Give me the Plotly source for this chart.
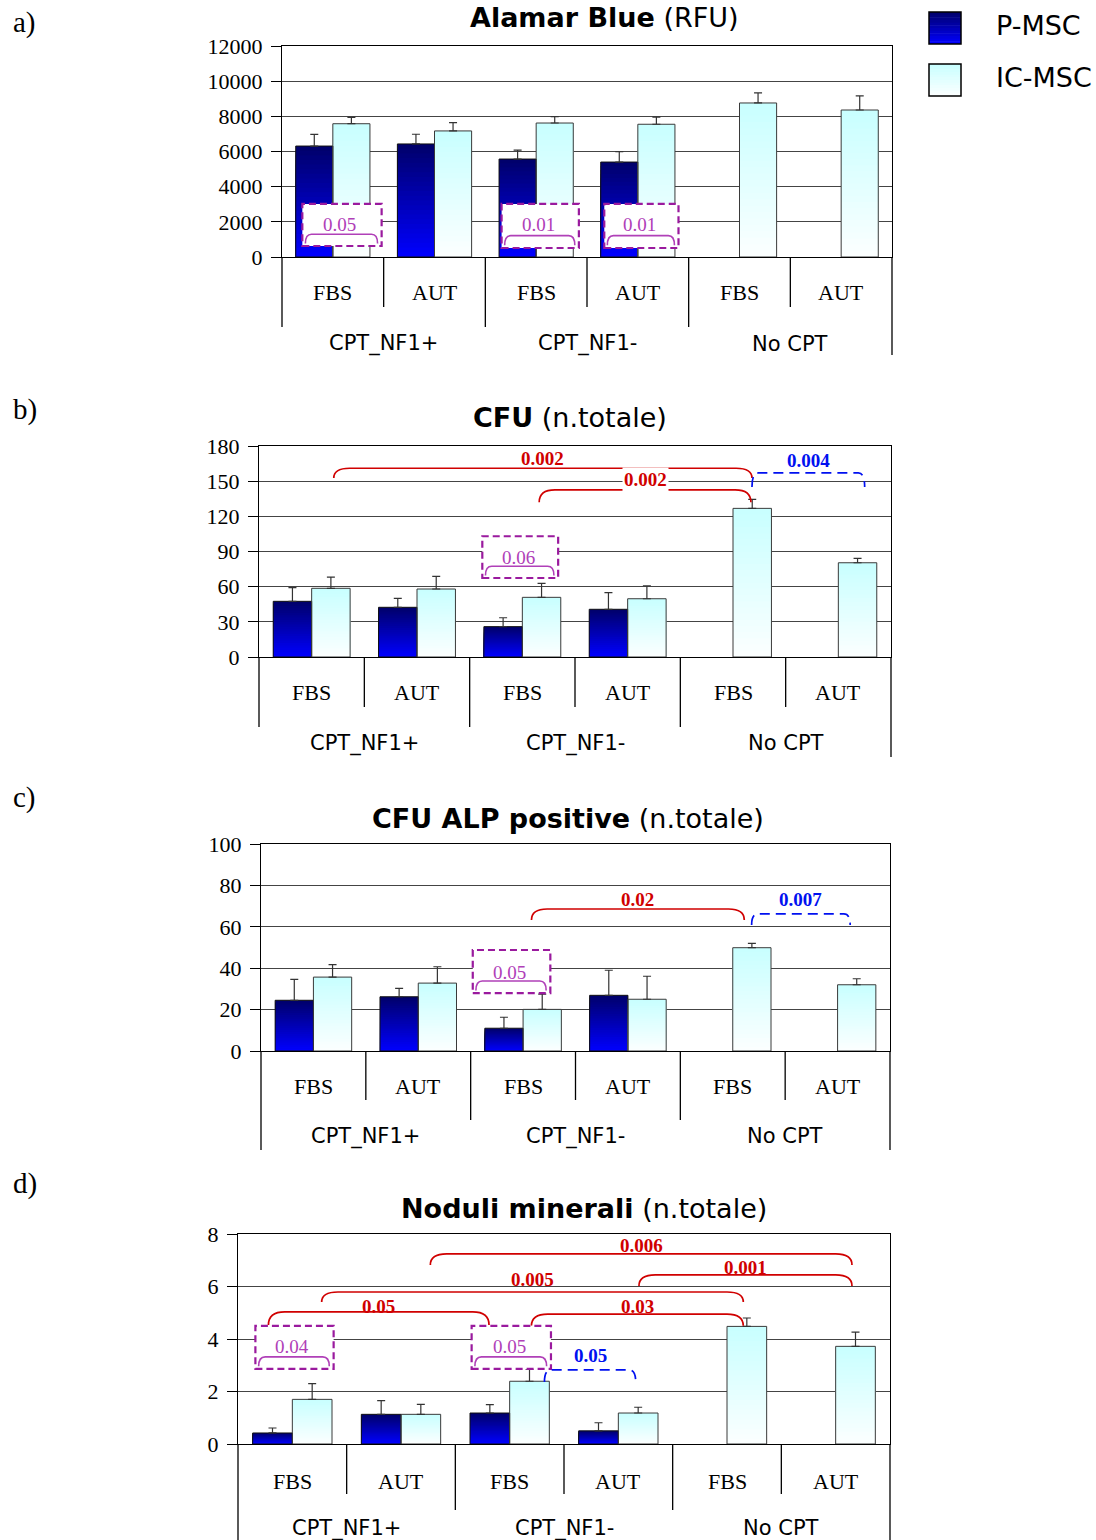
import plotly.graph_objects as go

# ---------------- data ----------------
conditions = ["FBS", "AUT", "FBS", "AUT", "FBS", "AUT"]
groups = ["CPT_NF1+", "CPT_NF1-", "No CPT"]
series_names = ["P-MSC", "IC-MSC"]
positions = [0, 1, 2, 3, 4, 5]

alamar_p = [6310, 6430, 5570, 5400, None, None]
alamar_p_sd = [660, 550, 510, 590, None, None]
alamar_ic = [7580, 7170, 7620, 7550, 8760, 8360]
alamar_ic_sd = [360, 470, 360, 400, 570, 800]

cfu_p = [47.5, 42.4, 25.9, 40.7, None, None]
cfu_p_sd = [11.6, 7.6, 7.6, 14.2, None, None]
cfu_ic = [58.6, 58.0, 50.9, 49.7, 126.8, 80.4]
cfu_ic_sd = [9.6, 10.8, 11.9, 11.1, 7.7, 3.8]

alp_p = [24.5, 26.2, 11.0, 26.9, None, None]
alp_p_sd = [10.1, 4.1, 5.3, 12.1, None, None]
alp_ic = [35.7, 32.8, 20.1, 25.0, 49.9, 32.0]
alp_ic_sd = [6.0, 7.9, 7.4, 11.1, 2.1, 2.9]

nod_p = [0.42, 1.13, 1.18, 0.50, None, None]
nod_p_sd = [0.19, 0.52, 0.32, 0.31, None, None]
nod_ic = [1.70, 1.13, 2.39, 1.18, 4.48, 3.72]
nod_ic_sd = [0.60, 0.38, 0.46, 0.22, 0.32, 0.54]

titles = ["<b>Alamar Blue</b> (RFU)", "<b>CFU</b> (n.totale)",
          "<b>CFU ALP positive</b> (n.totale)", "<b>Noduli minerali</b> (n.totale)"]
panel_letters = ["a)", "b)", "c)", "d)"]
y_max = [12000, 180, 100, 8]
y_step = [2000, 30, 20, 2]

# ---------------- layout geometry (px) ----------------
W, H = 1096, 1540
panels = [
    dict(l=282, r=892, t=46, b=257, short=50, long=70, left=70, right=98,
         title_x=604, title_y=18, letter_y=23, cat_dy=36, grp_dy=87),
    dict(l=259, r=891, t=446, b=657, short=50, long=70, left=70, right=100,
         title_x=570, title_y=417, letter_y=410, cat_dy=36, grp_dy=86),
    dict(l=261, r=890, t=844, b=1051, short=49, long=69, left=99, right=99,
         title_x=568, title_y=818, letter_y=797, cat_dy=35, grp_dy=85),
    dict(l=238, r=890, t=1234, b=1444, short=50, long=66, left=96, right=96,
         title_x=584, title_y=1208, letter_y=1183, cat_dy=37, grp_dy=84),
]

data_p = [(alamar_p, alamar_p_sd), (cfu_p, cfu_p_sd), (alp_p, alp_p_sd), (nod_p, nod_p_sd)]
data_ic = [(alamar_ic, alamar_ic_sd), (cfu_ic, cfu_ic_sd), (alp_ic, alp_ic_sd), (nod_ic, nod_ic_sd)]

RED = "#D00000"
BLUE = "#0010F0"
PURPLE_BOX = "#9A1A9E"
PURPLE = "#B040B8"

# significance marks: (kind, x0, x1, y_top, y_end, label, label_y, bg)
sig = [
    [
        ("box", -0.30, 0.48, 626, 3016, "0.05", 1820, None),
        ("box", 1.66, 2.42, 512, 3016, "0.01", 1820, None),
        ("box", 2.67, 3.40, 512, 3016, "0.01", 1820, None),
    ],
    [
        ("red", 0.21, 4.18, 161, 152.7, "0.002", 169, None),
        ("red", 2.16, 4.17, 142.5, 132, "0.002", 151, "white"),
        ("blue", 4.18, 5.25, 157, 145, "0.004", 168, None),
        ("box", 1.62, 2.34, 67.4, 103, "0.06", 85.3, None),
    ],
    [
        ("red", 2.08, 4.11, 68.6, 63.3, "0.02", 73.4, None),
        ("blue", 4.18, 5.12, 66.2, 60.9, "0.007", 73.4, None),
        ("box", 1.52, 2.26, 28, 48.8, "0.05", 37.7, None),
    ],
    [
        ("red", 1.27, 5.15, 7.24, 6.82, "0.006", 7.58, None),
        ("red", 3.19, 5.15, 6.44, 6.02, "0.001", 6.74, None),
        ("red", 0.27, 4.15, 5.79, 5.41, "0.005", 6.25, None),
        ("red", -0.22, 1.81, 5.03, 4.53, "0.05", 5.22, None),
        ("red", 2.20, 4.15, 4.95, 4.50, "0.03", 5.22, None),
        ("box", -0.34, 0.38, 2.86, 4.5, "0.04", 3.7, None),
        ("box", 1.65, 2.38, 2.86, 4.5, "0.05", 3.7, None),
        ("blue", 2.32, 3.16, 2.82, 2.36, "0.05", 3.39, None),
    ],
]

P_TOP, P_BOT = (0, 0, 105), (0, 0, 255)
IC_TOP, IC_BOT = (200, 255, 255), (252, 255, 255)
N_SLICES = 24
BAR_W = 0.365


def lerp(c0, c1, t):
    return "rgb(%d,%d,%d)" % tuple(round(a + (b - a) * t) for a, b in zip(c0, c1))


def px_x(px):
    return px / W


def px_y(py):
    return 1 - py / H


def text_ann(**kw):
    d = dict(showarrow=False, yanchor="middle")
    d.setdefault("xanchor", "center")
    d.update(kw)
    return d


fig = go.Figure()
layout = dict(
    width=W, height=H, autosize=False, margin=dict(l=0, r=0, t=0, b=0, pad=0),
    paper_bgcolor="white", plot_bgcolor="white", barmode="overlay",
    showlegend=False, font=dict(family="Liberation Serif", color="black"),
)
shapes = []
annotations = []

for i, pn in enumerate(panels):
    n = "" if i == 0 else str(i + 1)
    xa, ya = "x" + n, "y" + n
    xdom = [px_x(pn["l"]), px_x(pn["r"])]
    ydom = [px_y(pn["b"]), px_y(pn["t"])]
    layout["xaxis" + n] = dict(
        domain=xdom, anchor=ya, range=[-0.5, 5.5], showticklabels=False,
        showgrid=False, zeroline=False, showline=True, mirror=True,
        linecolor="black", linewidth=1, ticks="", fixedrange=True, automargin=False)
    layout["yaxis" + n] = dict(
        domain=ydom, anchor=xa, range=[0, y_max[i]], dtick=y_step[i], tick0=0,
        tickformat="d", showline=True, mirror=True, linecolor="black", linewidth=1,
        ticks="outside", ticklen=10, tickcolor="black", tickwidth=1,
        showgrid=True, gridcolor="#444444", gridwidth=1, zeroline=False,
        tickfont=dict(family="Liberation Serif", size=22, color="black"),
        ticklabelstandoff=4, fixedrange=True, automargin=False)

    # gradient bars (stacked overlapping slices, tallest first)
    for (vals, sd), off, ctop, cbot in [(data_p[i], -BAR_W, P_TOP, P_BOT),
                                        (data_ic[i], 0.0, IC_TOP, IC_BOT)]:
        for k in reversed(range(N_SLICES)):
            frac = (k + 1) / N_SLICES
            col = lerp(cbot, ctop, (k + 0.5) / N_SLICES)
            fig.add_trace(go.Bar(
                x=positions, y=[None if v is None else v * frac for v in vals],
                offset=off, width=BAR_W, xaxis=xa, yaxis=ya, opacity=1,
                marker=dict(color=col, line=dict(width=0)), hoverinfo="skip"))
    for (vals, sd), off, lc, name in [(data_p[i], -BAR_W, "#111111", series_names[0]),
                                      (data_ic[i], 0.0, "#3a3a3a", series_names[1])]:
        fig.add_trace(go.Bar(
            x=positions, y=vals, offset=off, width=BAR_W, xaxis=xa, yaxis=ya,
            name=name, opacity=1,
            marker=dict(color="rgba(0,0,0,0)", line=dict(color=lc, width=1)),
            error_y=dict(type="data", symmetric=False, array=sd,
                         arrayminus=[0] * len(sd), color="#333333",
                         thickness=1.2, width=4)))

    # category table lines below the axis
    unit = (pn["r"] - pn["l"]) / 6.0
    for j in range(7):
        xp = pn["l"] + j * unit
        if j == 0:
            ln = pn["left"]
        elif j == 6:
            ln = pn["right"]
        elif j % 2 == 0:
            ln = pn["long"]
        else:
            ln = pn["short"]
        shapes.append(dict(type="line", xref="paper", yref="paper",
                           x0=px_x(xp), x1=px_x(xp), y0=px_y(pn["b"]),
                           y1=px_y(pn["b"] + ln),
                           line=dict(color="black", width=1.3)))
    for j, c in enumerate(conditions):
        annotations.append(text_ann(x=positions[j], xref=xa, y=px_y(pn["b"] + pn["cat_dy"]),
                                    yref="paper", text=c,
                                    font=dict(family="Liberation Serif", size=22, color="black")))
    for g, gname in enumerate(groups):
        annotations.append(text_ann(x=2 * g + 0.5, xref=xa, y=px_y(pn["b"] + pn["grp_dy"]),
                                    yref="paper", text=gname,
                                    font=dict(family="DejaVu Sans", size=21, color="black")))

    # title and panel letter
    annotations.append(text_ann(x=px_x(pn["title_x"]), y=px_y(pn["title_y"]), xref="paper",
                                yref="paper", text=titles[i],
                                font=dict(family="DejaVu Sans", size=27, color="black")))
    annotations.append(text_ann(x=px_x(11), y=px_y(pn["letter_y"]), xref="paper", yref="paper",
                                xanchor="left", text=panel_letters[i],
                                font=dict(family="Liberation Serif", size=29, color="black")))

    # significance brackets
    for kind, x0, x1, yt, ye, lab, ly, bg in sig[i]:
        if kind == "box":
            shapes.append(dict(type="rect", xref=xa, yref=ya, x0=x0, x1=x1, y0=yt, y1=ye,
                               fillcolor="white",
                               line=dict(color=PURPLE_BOX, width=2.2, dash="7px,4px")))
            bx0, bx1 = x0 + 0.03, x1 - 0.04
            btop = yt + (ye - yt) * 0.28
            bend = yt + (ye - yt) * 0.06
            dx = 0.06
            path = (f"M {bx0},{bend} Q {bx0},{btop} {bx0 + dx},{btop} "
                    f"L {bx1 - dx},{btop} Q {bx1},{btop} {bx1},{bend}")
            shapes.append(dict(type="path", xref=xa, yref=ya, path=path,
                               line=dict(color=PURPLE, width=1.6)))
            annotations.append(text_ann(x=(x0 + x1) / 2 - 0.02, y=ly, xref=xa, yref=ya, text=lab,
                                        font=dict(family="Liberation Serif", size=19,
                                                  color=PURPLE)))
        else:
            col = RED if kind == "red" else BLUE
            dash = "solid" if kind == "red" else "10px,6px"
            dx = 0.15 if kind == "red" else 0.06
            path = (f"M {x0},{ye} Q {x0},{yt} {x0 + dx},{yt} "
                    f"L {x1 - dx},{yt} Q {x1},{yt} {x1},{ye}")
            shapes.append(dict(type="path", xref=xa, yref=ya, path=path,
                               line=dict(color=col, width=1.7, dash=dash)))
            ann = text_ann(x=(x0 + x1) / 2, y=ly, xref=xa, yref=ya, text="<b>" + lab + "</b>",
                           font=dict(family="Liberation Serif", size=19, color=col))
            if bg:
                ann["bgcolor"] = bg
            annotations.append(ann)

# legend drawn manually (gradient squares + labels)
for (ctop, cbot), top_px, name in [((P_TOP, P_BOT), 12, series_names[0]),
                                   ((IC_TOP, IC_BOT), 64, series_names[1])]:
    nseg = 12
    for s in range(nseg):
        y0 = top_px + s * 32 / nseg
        y1 = min(top_px + (s + 1) * 32 / nseg + 0.5, top_px + 32)
        shapes.append(dict(type="rect", xref="paper", yref="paper",
                           x0=px_x(929), x1=px_x(961), y0=px_y(y0), y1=px_y(y1),
                           fillcolor=lerp(ctop, cbot, (s + 0.5) / nseg), line=dict(width=0)))
    shapes.append(dict(type="rect", xref="paper", yref="paper",
                       x0=px_x(929), x1=px_x(961), y0=px_y(top_px), y1=px_y(top_px + 32),
                       line=dict(color="black", width=1.5)))
    annotations.append(text_ann(x=px_x(994), y=px_y(top_px + 13), xref="paper", yref="paper",
                                xanchor="left", text=name,
                                font=dict(family="DejaVu Sans", size=27, color="black")))

layout["shapes"] = shapes
layout["annotations"] = annotations
fig.update_layout(**layout)
fig.write_html("out.html")
